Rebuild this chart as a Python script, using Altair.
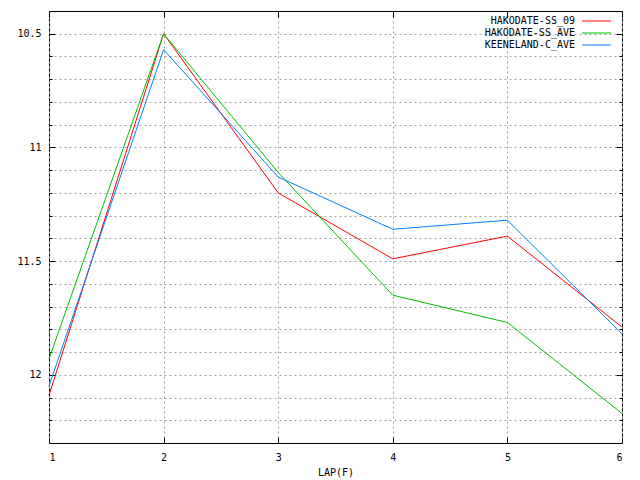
import pandas as pd
import altair as alt

laps = [1, 2, 3, 4, 5, 6]
hakodate_ss_09 = [12.09, 10.50, 11.20, 11.49, 11.39, 11.79]
hakodate_ss_ave = [11.93, 10.50, 11.11, 11.65, 11.77, 12.17]
keeneland_c_ave = [12.05, 10.57, 11.13, 11.36, 11.32, 11.82]
series = ["HAKODATE-SS_09", "HAKODATE-SS_AVE", "KEENELAND-C_AVE"]
colors = ["#ff0000", "#00c000", "#0080ff"]

major_y = [10.5, 11.0, 11.5, 12.0]
minor_y = [10.5, 10.6, 10.7, 10.8, 10.9, 11.0, 11.1, 11.2, 11.3,
           11.4, 11.5, 11.6, 11.7, 11.8, 11.9, 12.0, 12.1, 12.2]

df = pd.DataFrame({
	"lap": laps * 3,
	"time": hakodate_ss_09 + hakodate_ss_ave + keeneland_c_ave,
	"series": [s for s in series for _ in laps],
})
legend_df = pd.DataFrame({"series": series})

font = "DejaVu Sans Mono"
grid_color = "#a0a0a0"
x_scale = alt.Scale(domain = [1, 6], nice = False, zero = False)
y_scale = alt.Scale(domain = [10.4, 12.3], nice = False, zero = False, reverse = True)
color = alt.Color("series:N", scale = alt.Scale(domain = series, range = colors), legend = None)

def tick_axis(orient, values, size):
	return alt.Axis(orient = orient, values = values, tickSize = size, offset = -size,
		labels = False, domain = False, grid = False, title = None, tickColor = "black")

x_main = alt.X("lap:Q", scale = x_scale, axis = alt.Axis(values = laps, format = "d", title = "LAP(F)",
	grid = True, gridDash = [2, 3], gridColor = grid_color, tickSize = 0, labelPadding = 9,
	domain = False, titlePadding = 5))
y_main = alt.Y("time:Q", scale = y_scale, axis = alt.Axis(values = minor_y, title = None,
	labelExpr = "abs(datum.value * 2 - round(datum.value * 2)) < 0.001 ? format(datum.value, '~g') : ''",
	grid = True, gridDash = [2, 3], gridColor = grid_color, tickSize = 0, labelPadding = 8, domain = False))

lines = alt.Chart(df).mark_line(strokeWidth = 1).encode(x = x_main, y = y_main, color = color)

# invisible copies of the lines, only there to carry inward tick marks on every side
def ticks(x_axis, y_axis):
	return alt.Chart(df).mark_line(opacity = 0).encode(
		x = alt.X("lap:Q", scale = x_scale, axis = x_axis),
		y = alt.Y("time:Q", scale = y_scale, axis = y_axis),
		detail = "series:N",
	)

ticks_a = ticks(tick_axis("bottom", laps, 6), tick_axis("left", major_y, 6))
ticks_b = ticks(tick_axis("top", laps, 6), tick_axis("left", minor_y, 3))
ticks_c = ticks(None, tick_axis("right", major_y, 6))
ticks_d = ticks(None, tick_axis("right", minor_y, 3))

legend_y = alt.Y("series:N", scale = alt.Scale(type = "point", domain = series, range = [10, 34], padding = 0), axis = None)
legend_text = alt.Chart(legend_df).mark_text(align = "right", baseline = "middle", font = font, fontSize = 10, color = "black").encode(
	x = alt.value(526), y = legend_y, text = "series:N")
legend_line = alt.Chart(legend_df).mark_rule(strokeWidth = 1).encode(
	x = alt.value(533), x2 = alt.value(562), y = legend_y, color = color)

chart = alt.layer(lines, ticks_a, ticks_b, ticks_c, ticks_d, legend_text, legend_line).resolve_scale(
	x = "independent", y = "independent"
).properties(
	width = 573, height = 432,
	autosize = alt.AutoSizeParams(type = "none"),
	padding = {"left": 41, "top": 3, "right": 10, "bottom": 36},
	background = "white",
).configure_view(stroke = "black", strokeWidth = 1).configure_axis(
	labelFont = font, labelFontSize = 10, labelColor = "black",
	titleFont = font, titleFontSize = 10, titleFontWeight = "normal", titleColor = "black",
)

chart.save("out.html", embed_options = {"renderer": "svg", "actions": False})
